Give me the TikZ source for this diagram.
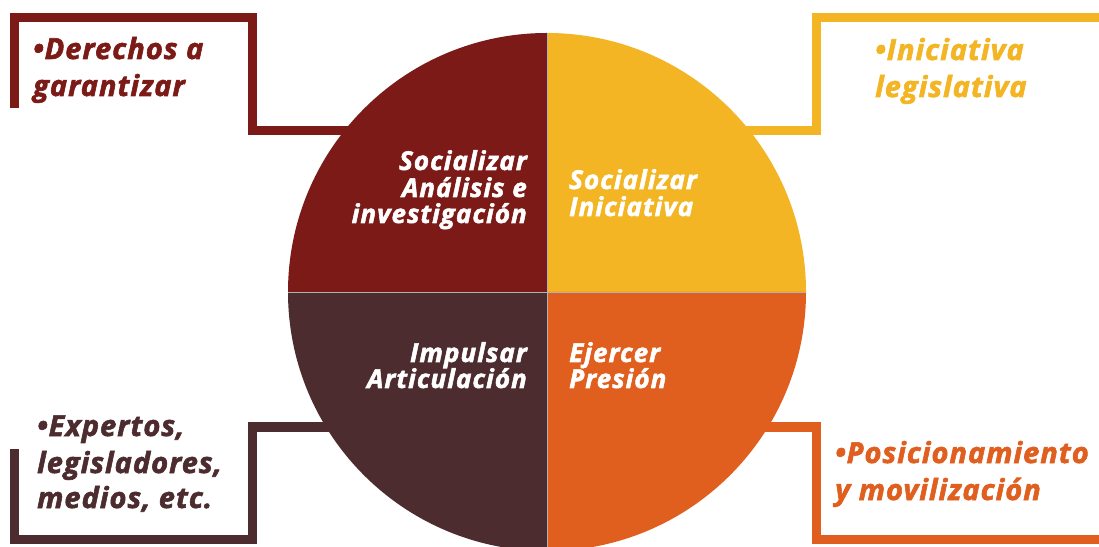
\documentclass[tikz,border=0pt]{standalone}
\usepackage{fontspec}
\setmainfont{Open Sans}
\definecolor{cRed}{HTML}{7B1A17}
\definecolor{cYel}{HTML}{F3B523}
\definecolor{cBrn}{HTML}{4C2C2F}
\definecolor{cOrg}{HTML}{E05E1E}
\tikzset{
  bracket/.style={line width=9pt, line join=miter, line cap=butt},
  inner/.style={text=white, inner sep=0pt, font=\fontsize{26}{28}\selectfont\bfseries\itshape\addfontfeatures{LetterSpace=4,FakeBold=2}},
  outer/.style={inner sep=0pt, font=\fontsize{29}{31}\selectfont\bfseries\itshape\addfontfeatures{LetterSpace=3.5,FakeBold=2}},
}
\begin{document}
\begin{tikzpicture}[x=1pt,y=1pt]
\useasboundingbox (0,0) rectangle (1099,546);
\clip (0,0) rectangle (1099,546);
\fill[white] (0,0) rectangle (1099,546);
% brackets
\coordinate (tlA) at (14,438);
\coordinate (tlB) at (14,528.5);
\coordinate (tlC) at (252,528.5);
\coordinate (tlD) at (252,415);
\coordinate (trA) at (816,415);
\coordinate (trB) at (816,528.5);
\coordinate (trC) at (1110,528.5);
\coordinate (blA) at (14,97);
\coordinate (blB) at (14,6.5);
\coordinate (blC) at (252,6.5);
\coordinate (blD) at (252,119);
\coordinate (brA) at (816.5,119);
\coordinate (brB) at (816.5,6.5);
\coordinate (brC) at (1110,6.5);
\coordinate (O) at (547,254);
\draw[bracket, cRed] (tlA) -- (tlB) -- (tlC) -- (tlD) -- (O |- tlD);
\draw[bracket, cYel] (O |- trA) -- (trA) -- (trB) -- (trC);
\draw[bracket, cBrn] (blA) -- (blB) -- (blC) -- (blD) -- (O |- blD);
\draw[bracket, cOrg] (O |- brA) -- (brA) -- (brB) -- (brC);
% circle quadrants
\fill[cRed] (O) -- ++(-259,0) arc[start angle=180, end angle=90, radius=259] -- cycle;
\fill[cYel] (O) -- ++(0,259) arc[start angle=90, end angle=0, radius=259] -- cycle;
\fill[cOrg] (O) -- ++(259,0) arc[start angle=0, end angle=-90, radius=259] -- cycle;
\fill[cBrn] (O) -- ++(0,-259) arc[start angle=270, end angle=180, radius=259] -- cycle;
\draw[gray!60, line width=0.6pt] (O) ++(-259,0) -- ++(518,0);
\draw[gray!60, line width=0.6pt] (O) ++(0,-259) -- ++(0,518);
% inner labels
\node[inner, anchor=base east] (q1a) at (527,376) {Socializar};
\node[inner, anchor=base east] (q1b) at (527,349) {Análisis e};
\node[inner, anchor=base east] (q1c) at (527,323) {investigación};
\node[inner, anchor=base west] (q2a) at (569,357) {Socializar};
\node[inner, anchor=base west] (q2b) at (569,330) {Iniciativa};
\node[inner, anchor=base east] (q3a) at (527,184) {Impulsar};
\node[inner, anchor=base east] (q3b) at (527,158) {Articulación};
\node[inner, anchor=base west] (q4a) at (569,184) {Ejercer};
\node[inner, anchor=base west] (q4b) at (569,158) {Presión};
% outer labels
\node[outer, text=cRed, anchor=base west] (o1a) at (33,487) {•Derechos a};
\node[outer, text=cRed, anchor=base west] (o1b) at (33,450) {garantizar};
\node[outer, text=cYel, anchor=base west] (o2a) at (875,486) {•Iniciativa};
\node[outer, text=cYel, anchor=base west] (o2b) at (875,449) {legislativa};
\node[outer, text=cBrn, anchor=base west] (o3a) at (37,110) {•Expertos,};
\node[outer, text=cBrn, anchor=base west] (o3b) at (37,73) {legisladores,};
\node[outer, text=cBrn, anchor=base west] (o3c) at (37,38) {medios, etc.};
\node[outer, text=cOrg, anchor=base west] (o4a) at (835,83) {•Posicionamiento};
\node[outer, text=cOrg, anchor=base west] (o4b) at (835,46) {y movilización};
\end{tikzpicture}
\end{document}
